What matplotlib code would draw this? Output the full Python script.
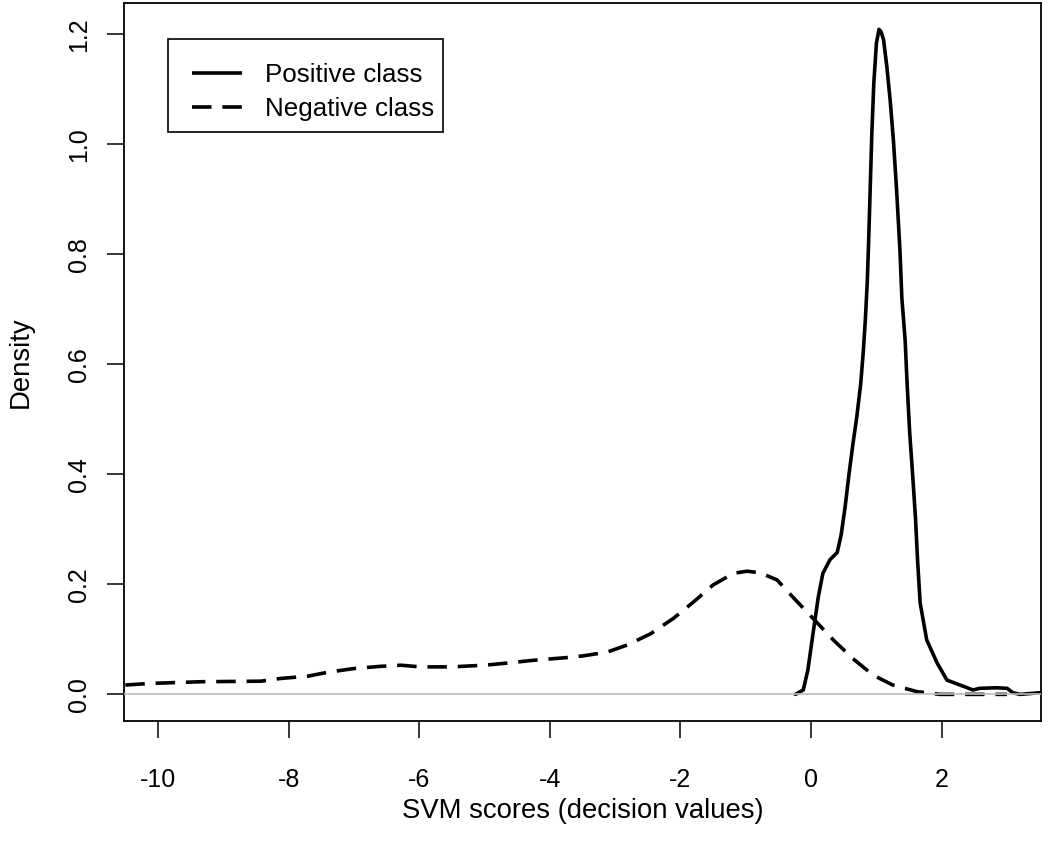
import matplotlib
matplotlib.use("Agg")
import matplotlib.pyplot as plt
from matplotlib.lines import Line2D
from matplotlib.patches import Rectangle

# Positive class density
pos_x = [-0.24, -0.12, -0.05, 0.03, 0.11, 0.18, 0.29, 0.40, 0.46, 0.52, 0.58, 0.64,
         0.70, 0.76, 0.80, 0.83, 0.86, 0.88, 0.90, 0.93, 0.96, 1.00, 1.04, 1.07,
         1.11, 1.16, 1.21, 1.26, 1.31, 1.36, 1.39, 1.44, 1.47, 1.51, 1.56, 1.60,
         1.63, 1.67, 1.77, 1.93, 2.08, 2.28, 2.48, 2.58, 2.84, 3.00, 3.09, 3.20, 3.50]
pos_y = [0.000, 0.008, 0.044, 0.111, 0.177, 0.220, 0.245, 0.258, 0.290, 0.340, 0.400, 0.455,
         0.505, 0.565, 0.625, 0.680, 0.750, 0.820, 0.900, 1.020, 1.111, 1.184, 1.209, 1.205,
         1.190, 1.141, 1.081, 1.008, 0.915, 0.808, 0.720, 0.644, 0.565, 0.475, 0.390, 0.317,
         0.244, 0.166, 0.099, 0.057, 0.026, 0.017, 0.008, 0.011, 0.012, 0.011, 0.003, 0.000, 0.003]

# Negative class density
neg_x = [-10.5, -10.1, -9.34, -8.42, -8.12, -7.71, -7.41, -7.0, -6.59, -6.28, -5.98, -5.52,
         -5.0, -4.65, -4.25, -3.73, -3.49, -3.12, -2.81, -2.46, -2.11, -1.80, -1.50, -1.19,
         -0.98, -0.78, -0.52, -0.28, 0.03, 0.34, 0.64, 0.95, 1.25, 1.62, 1.97, 2.38, 3.0]
neg_y = [0.017, 0.020, 0.023, 0.024, 0.029, 0.033, 0.040, 0.047, 0.051, 0.053, 0.050, 0.050,
         0.053, 0.057, 0.062, 0.067, 0.070, 0.077, 0.090, 0.110, 0.138, 0.168, 0.199, 0.220,
         0.224, 0.221, 0.208, 0.177, 0.138, 0.099, 0.065, 0.035, 0.017, 0.005, 0.000, 0.000, 0.000]

x_ticks = [-10, -8, -6, -4, -2, 0, 2]
y_ticks = [0.0, 0.2, 0.4, 0.6, 0.8, 1.0, 1.2]
y_tick_labels = ["0.0", "0.2", "0.4", "0.6", "0.8", "1.0", "1.2"]
legend_labels = ["Positive class", "Negative class"]

plt.rcParams['font.family'] = ['Liberation Sans', 'DejaVu Sans']

W, H = 1050, 858
fig = plt.figure(figsize=(W/100, H/100), dpi=100)
ax = fig.add_axes([124/W, 1 - 721/H, (1041-124)/W, (721-3)/H])

lw = 2.6
neg_dash = (0, (5.4, 3.0))
ax.plot(pos_x, pos_y, color='black', lw=lw, solid_capstyle='round', solid_joinstyle='round',
        zorder=3)
ax.plot(neg_x, neg_y, color='black', lw=lw, ls=neg_dash, dash_capstyle='butt', zorder=3)
ax.axhline(0, color='#bebebe', lw=1.2, zorder=4)

ax.set_xlim(-10.52, 3.52)
ax.set_ylim(-0.0484, 1.257)

ax.set_xticks(x_ticks)
ax.set_xticklabels([str(t) for t in x_ticks])
ax.set_yticks(y_ticks)
ax.set_yticklabels(y_tick_labels, rotation=90, va='center')

ax.tick_params(axis='both', direction='out', length=12, width=1.1, labelsize=18, colors='black')
ax.tick_params(axis='x', pad=22)
ax.tick_params(axis='y', pad=12)
for s in ax.spines.values():
    s.set_linewidth(1.3)
    s.set_color('black')

ax.set_xlabel("SVM scores (decision values)", fontsize=19.8, labelpad=4)
ax.set_ylabel("Density", fontsize=19.8, labelpad=24)

# Legend box drawn in figure pixel layout
def fx(x):
    return x / W

def fy(y):
    return 1 - y / H

tf = fig.transFigure
fig.add_artist(Rectangle((fx(168), fy(132)), fx(443) - fx(168), fy(39) - fy(132),
                         transform=tf, fill=False, edgecolor='black', lw=1.2, zorder=10))
row_y = [72.5, 106.5]
styles = ['-', neg_dash]
for ry, st, lab in zip(row_y, styles, legend_labels):
    fig.add_artist(Line2D([fx(192), fx(242)], [fy(ry), fy(ry)], transform=tf,
                          color='black', lw=lw, ls=st, dash_capstyle='butt',
                          solid_capstyle='butt', zorder=10))
    fig.text(fx(265), fy(ry + 9.3), lab, fontsize=18.7, va='baseline', ha='left',
             transform=tf, zorder=10)

fig.savefig("out.png", dpi=100, facecolor='white')
